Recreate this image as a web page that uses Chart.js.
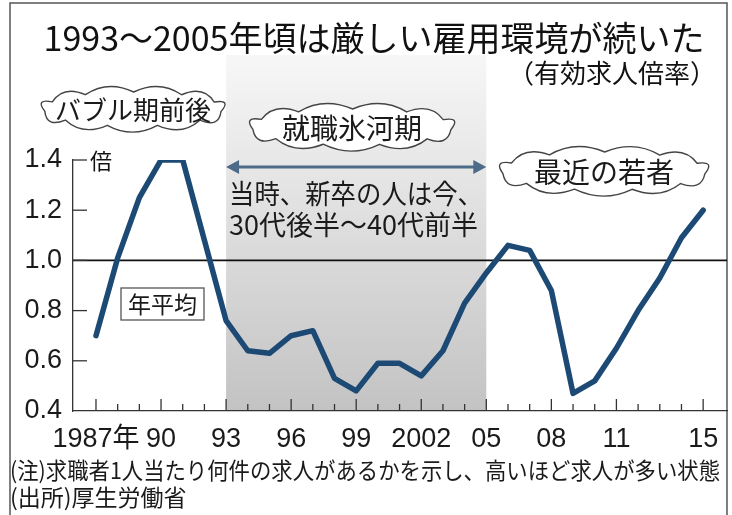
<!DOCTYPE html>
<html><head><meta charset="utf-8">
<script src="https://cdn.jsdelivr.net/npm/chart.js@4/dist/chart.umd.min.js"></script>
<style>html,body{margin:0;padding:0;background:#fff}#wrap{width:732px;height:515px;position:relative}</style>
</head><body><div id="wrap"><canvas id="c" width="732" height="515"></canvas></div>
<script>
const years = [1987,1988,1989,1990,1991,1992,1993,1994,1995,1996,1997,1998,1999,2000,2001,2002,2003,2004,2005,2006,2007,2008,2009,2010,2011,2012,2013,2014,2015];
const ratio = [0.70,1.01,1.25,1.40,1.40,1.08,0.76,0.64,0.63,0.70,0.72,0.53,0.48,0.59,0.59,0.54,0.64,0.83,0.95,1.06,1.04,0.88,0.47,0.52,0.65,0.80,0.93,1.09,1.20];
const xTickLabels = {1987:'1987年',1990:'90',1993:'93',1996:'96',1999:'99',2002:'2002',2005:'05',2008:'08',2011:'11',2015:'15'};
const yTicks = [0.4,0.6,0.8,1.0,1.2,1.4];
const iceAge = [1993, 2005];
const title = '1993～2005年頃は厳しい雇用環境が続いた';
const subtitle = '（有効求人倍率）';
const unit = '倍';
const clouds = ['バブル期前後','就職氷河期','最近の若者'];
const noteLines = ['当時、新卒の人は今、','30代後半～40代前半'];
const boxLabel = '年平均';
const footnotes = ['(注)求職者1人当たり何件の求人があるかを示し、高いほど求人が多い状態','(出所)厚生労働省'];

const JP = '"Noto Sans CJK JP", sans-serif';
const NUM = '"Liberation Sans Narrow", "Liberation Sans", "Noto Sans CJK JP", sans-serif';

function cloudPath(ctx, cx, cy, rx, ry, n, bump){
  ctx.beginPath();
  for(let i=0;i<=n;i++){
    const a = 2*Math.PI*i/n + 0.15;
    const x = cx + rx*Math.cos(a), y = cy + ry*Math.sin(a);
    if(i===0){ctx.moveTo(x,y);continue;}
    const am = 2*Math.PI*(i-0.5)/n + 0.15;
    const mx = cx + rx*Math.cos(am), my = cy + ry*Math.sin(am);
    let nx = Math.cos(am)/rx, ny = Math.sin(am)/ry; const l = Math.hypot(nx,ny); nx/=l; ny/=l;
    ctx.quadraticCurveTo(mx+nx*bump*2, my+ny*bump*2, x, y);
  }
  ctx.closePath();
}

const deco = {
  id:'deco',
  beforeDraw(chart){
    const {ctx, chartArea, scales:{x,y}} = chart;
    ctx.save();
    const x0 = x.getPixelForValue(iceAge[0]), x1 = x.getPixelForValue(iceAge[1]);
    const g = ctx.createLinearGradient(0,55,0,chartArea.bottom);
    g.addColorStop(0,'#f7f7f7'); g.addColorStop(1,'#c3c3c3');
    ctx.fillStyle = g;
    ctx.fillRect(x0,55,x1-x0,chartArea.bottom-55);
    ctx.strokeStyle='#555'; ctx.lineWidth=1.5;
    ctx.beginPath(); ctx.moveTo(10,515); ctx.lineTo(10,3); ctx.lineTo(727,3); ctx.lineTo(727,515); ctx.stroke();
    ctx.fillStyle='#111'; ctx.textBaseline='middle';
    ctx.font='400 34px '+JP; ctx.textAlign='center';
    ctx.fillText(title, 374, 38, 682);
    ctx.font='26px '+JP; ctx.textAlign='right';
    ctx.fillText(subtitle, 716, 73);
    const y1 = y.getPixelForValue(1.0);
    ctx.strokeStyle='#111'; ctx.lineWidth=1.6;
    ctx.beginPath(); ctx.moveTo(chartArea.left,y1); ctx.lineTo(chartArea.right,y1); ctx.stroke();
    ctx.strokeStyle='#333'; ctx.lineWidth=1.3;
    yTicks.forEach(v=>{ if(v===0.4) return; const py=y.getPixelForValue(v); ctx.beginPath(); ctx.moveTo(chartArea.left,py); ctx.lineTo(chartArea.left+14,py); ctx.stroke(); });
    years.forEach(yr=>{ const px=x.getPixelForValue(yr); const len = xTickLabels[yr]?12:7; ctx.beginPath(); ctx.moveTo(px,chartArea.bottom); ctx.lineTo(px,chartArea.bottom-len); ctx.stroke(); });
    ctx.fillStyle='#111'; ctx.font='22px '+JP; ctx.textAlign='left';
    ctx.fillText(unit, 90, y.getPixelForValue(1.4)+1);
    const cl = [[133,109,89,17,clouds[0],26],[352,127,100,18,clouds[1],28],[604,171,102,19,clouds[2],28]];
    cl.forEach(([cx,cy,rx,ry,t,fs])=>{
      cloudPath(ctx,cx,cy,rx,ry,11,6.5);
      ctx.fillStyle='#fff'; ctx.fill(); ctx.strokeStyle='#444'; ctx.lineWidth=1.4; ctx.stroke();
      ctx.fillStyle='#1a1a1a'; ctx.font=fs+'px '+JP; ctx.textAlign='center'; ctx.fillText(t,cx,cy+1);
    });
    const ay=167; ctx.strokeStyle='#4d6a88'; ctx.fillStyle='#4d6a88'; ctx.lineWidth=3;
    ctx.beginPath(); ctx.moveTo(x0+10,ay); ctx.lineTo(x1-10,ay); ctx.stroke();
    ctx.beginPath(); ctx.moveTo(x0,ay); ctx.lineTo(x0+13,ay-7); ctx.lineTo(x0+13,ay+7); ctx.closePath(); ctx.fill();
    ctx.beginPath(); ctx.moveTo(x1,ay); ctx.lineTo(x1-13,ay-7); ctx.lineTo(x1-13,ay+7); ctx.closePath(); ctx.fill();
    ctx.fillStyle='#1a1a1a'; ctx.font='27px '+JP; ctx.textAlign='left';
    ctx.fillText(noteLines[0], 229, 194, 254);
    ctx.fillText(noteLines[1], 229, 225, 254);
    ctx.fillStyle='#fff'; ctx.fillRect(121,288,83,32);
    ctx.strokeStyle='#555'; ctx.lineWidth=1.3; ctx.strokeRect(121,288,83,32);
    ctx.fillStyle='#1a1a1a'; ctx.font='23px '+JP; ctx.textAlign='center';
    ctx.fillText(boxLabel, 162.5, 304);
    ctx.font='23px '+JP; ctx.textAlign='left';
    ctx.fillText(footnotes[0], 10, 470, 710);
    ctx.fillText(footnotes[1], 10, 497);
    ctx.restore();
  }
};

new Chart(document.getElementById('c'), {
  type:'line',
  data:{ datasets:[{ data: years.map((yr,i)=>({x:yr,y:ratio[i]})), borderColor:'#1c4a74', borderWidth:5.5, pointRadius:0, tension:0, borderJoinStyle:'round', borderCapStyle:'round', fill:false }]},
  options:{
    responsive:false, devicePixelRatio:1, animation:false,
    layout:{padding:{top:160,left:0,right:5,bottom:0}},
    plugins:{legend:{display:false}, tooltip:{enabled:false}, title:{display:false}},
    scales:{
      x:{ type:'linear', min:1985.94, max:2016.1,
        afterBuildTicks(s){ s.ticks = years.map(v=>({value:v})); },
        afterFit(s){ s.height = 104; },
        grid:{display:false, drawTicks:false},
        border:{display:true,color:'#333',width:1.3},
        ticks:{ autoSkip:false, maxRotation:0, padding:12, color:'#1a1a1a', font:{family:NUM,size:27}, callback:(v)=>xTickLabels[v]||'' } },
      y:{ min:0.4, max:1.4,
        afterBuildTicks(s){ s.ticks = yTicks.map(v=>({value:v})); },
        afterFit(s){ s.width = 73; },
        grid:{display:false, drawTicks:false},
        border:{display:true,color:'#333',width:1.3},
        ticks:{ padding:11, color:'#1a1a1a', font:{family:NUM,size:27}, callback:(v)=>v.toFixed(1) } }
    }
  },
  plugins:[deco]
});
</script></body></html>
